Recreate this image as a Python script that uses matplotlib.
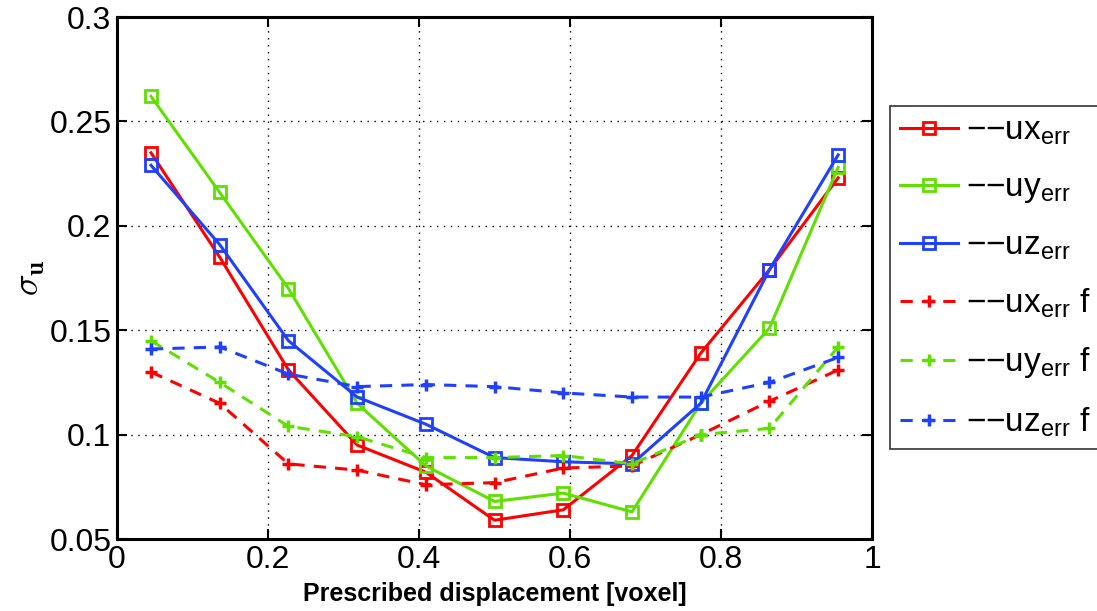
import matplotlib
matplotlib.use('Agg')
import matplotlib.pyplot as plt
import numpy as np

# prescribed displacement positions (voxel)
disp = [0.045, 0.136, 0.227, 0.318, 0.409, 0.5, 0.591, 0.682, 0.773, 0.864, 0.955]

# error std, raw
ux_err = [0.235, 0.185, 0.131, 0.095, 0.082, 0.059, 0.064, 0.090, 0.139, 0.179, 0.223]
uy_err = [0.262, 0.216, 0.170, 0.115, 0.085, 0.068, 0.072, 0.063, 0.115, 0.151, 0.228]
uz_err = [0.229, 0.191, 0.145, 0.118, 0.105, 0.089, 0.087, 0.086, 0.115, 0.179, 0.234]

# error std, filtered
ux_f = [0.130, 0.115, 0.086, 0.083, 0.076, 0.077, 0.084, 0.085, 0.100, 0.116, 0.131]
uy_f = [0.145, 0.125, 0.104, 0.099, 0.089, 0.089, 0.090, 0.086, 0.100, 0.103, 0.142]
uz_f = [0.141, 0.142, 0.129, 0.123, 0.124, 0.123, 0.120, 0.118, 0.118, 0.125, 0.137]

labels = ['\u2212\u2212ux$_{\\mathrm{err}}$', '\u2212\u2212uy$_{\\mathrm{err}}$', '\u2212\u2212uz$_{\\mathrm{err}}$',
          '\u2212\u2212ux$_{\\mathrm{err}}$ f', '\u2212\u2212uy$_{\\mathrm{err}}$ f', '\u2212\u2212uz$_{\\mathrm{err}}$ f']

red = '#ff0000'
green = '#5fe000'
blue = '#2040ff'

plt.rcParams['font.family'] = ['Liberation Sans', 'DejaVu Sans']
plt.rcParams['mathtext.fontset'] = 'custom'
plt.rcParams['mathtext.rm'] = 'Liberation Sans'
plt.rcParams['mathtext.it'] = 'Liberation Sans:italic'
plt.rcParams['mathtext.bf'] = 'Liberation Sans:bold'

fig = plt.figure(figsize=(10.97, 6.11), dpi=100)
ax = fig.add_axes([0.1067, 0.1178, 0.6883, 0.8542])

lw = 2.2
ax.plot(disp, ux_err, '-', color=red, lw=lw, marker='s', ms=8.5, mfc='none', mew=2, label=labels[0])
ax.plot(disp, uy_err, '-', color=green, lw=lw, marker='s', ms=8.5, mfc='none', mew=2, label=labels[1])
ax.plot(disp, uz_err, '-', color=blue, lw=lw, marker='s', ms=8.5, mfc='none', mew=2, label=labels[2])
ax.plot(disp, ux_f, '--', color=red, lw=lw, dashes=(4, 3), marker='+', ms=8, mew=2.5, label=labels[3])
ax.plot(disp, uy_f, '--', color=green, lw=lw, dashes=(4, 3), marker='+', ms=8, mew=2.5, label=labels[4])
ax.plot(disp, uz_f, '--', color=blue, lw=lw, dashes=(4, 3), marker='+', ms=8, mew=2.5, label=labels[5])

ax.set_xlim(0, 1)
ax.set_ylim(0.05, 0.3)
ax.set_xticks(np.arange(0, 1.01, 0.2))
ax.set_yticks(np.arange(0.05, 0.301, 0.05))
ax.set_xticklabels(['0', '0.2', '0.4', '0.6', '0.8', '1'])
ax.set_yticklabels(['0.05', '0.1', '0.15', '0.2', '0.25', '0.3'])
ax.tick_params(direction='in', length=7, width=1.5, labelsize=23, top=True, right=True, pad=4)
for s in ax.spines.values():
    s.set_linewidth(2.2)
ax.grid(True, color='black', linestyle=(0, (1, 4)), linewidth=1.0)

ax.set_xlabel('Prescribed displacement [voxel]', fontsize=18, fontweight='bold', labelpad=5)
ax.set_ylabel('$\\sigma_{\\mathbf{u}}$', fontsize=26, math_fontfamily='cm', labelpad=2)

leg = fig.legend(loc='upper left', bbox_to_anchor=(0.811, 0.8265), fontsize=24,
                 frameon=True, fancybox=False, edgecolor='black', handlelength=1.75,
                 labelspacing=0.75, borderpad=0.3, handletextpad=0.25, borderaxespad=0)
leg.get_frame().set_linewidth(1.2)

fig.savefig('out.png', dpi=100)
